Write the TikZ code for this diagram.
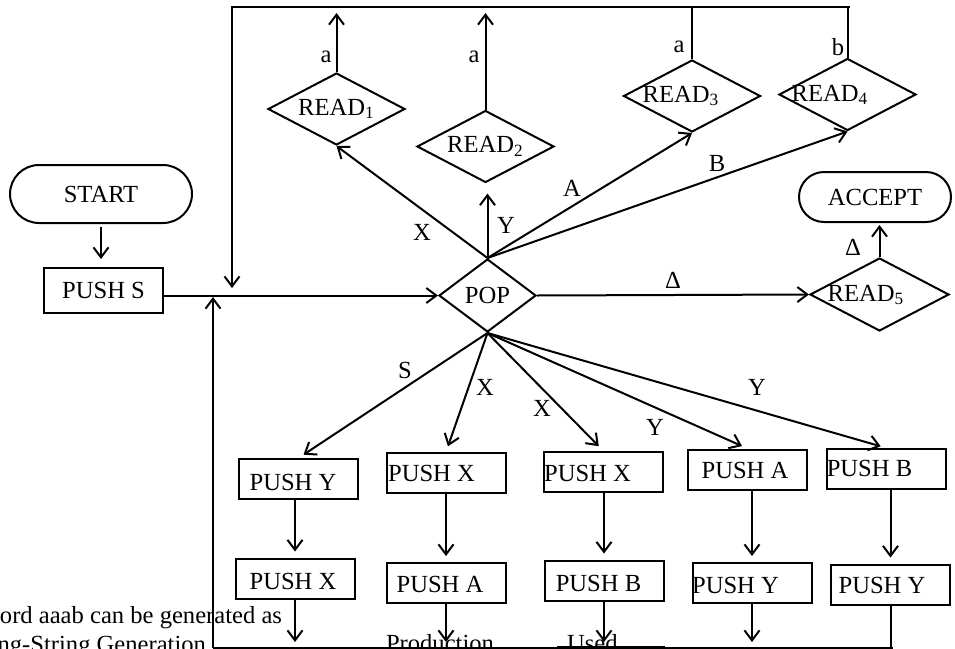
\documentclass[tikz,border=0pt]{standalone}
\usepackage{fontspec}
\setmainfont{Liberation Serif}
\usetikzlibrary{arrows.meta,shapes.geometric,calc}
\begin{document}
\begin{tikzpicture}[x=0.5pt,y=-0.5pt,line width=1pt,
  every node/.style={font=\fontsize{12.3}{14}\selectfont, inner sep=0pt},
  arr/.style={-{Straight Barb[length=5pt,width=7.5pt]}},
  dia/.style={draw, diamond, shape aspect=1.9, minimum width=68.5pt, minimum height=36pt},
  box/.style={draw, rectangle, minimum width=59.5pt, minimum height=20pt},
  term/.style={draw, rectangle}]
\useasboundingbox (0,0) rectangle (955,649);

% terminals and first box
\node[term, minimum width=91pt, minimum height=29pt, rounded corners=14.5pt] (start) at (101,194) {START};
\node[box, minimum height=22.5pt] (pushS) at (103.5,290.5) {PUSH S};
\node[term, minimum width=76pt, minimum height=25pt, rounded corners=12.5pt] (accept) at (875,197) {ACCEPT};

% diamonds
\node[dia, shape aspect=1.33, minimum width=48.5pt, minimum height=36.5pt] (pop) at (487.5,295.5) {POP};
\node[dia] (r1) at (336.5,109) {READ\textsubscript{1}};
\node[dia] (r2) at (485.5,146.5) {READ\textsubscript{2}};
\node[dia] (r3) at (692,96) {};
\node (r3t) at (681,96) {READ\textsubscript{3}};
\node[dia] (r4) at (847.5,94.5) {};
\node (r4t) at (830,95) {READ\textsubscript{4}};
\node[dia, minimum width=69.5pt, minimum height=36.5pt] (r5) at (879.5,294.5) {};
\node (r5t) at (866,295) {READ\textsubscript{5}};

% push boxes
\node[box] (b1) at (298.5,479) {};  \node (b1t) at (293,482) {PUSH Y};
\node[box] (b2) at (446,473) {};    \node (b2t) at (431.5,473.5) {PUSH X};
\node[box] (b3) at (603,471.5) {};  \node (b3t) at (587.5,473) {PUSH X};
\node[box] (b4) at (747.5,469.5) {};\node (b4t) at (745,470.5) {PUSH A};
\node[box] (b5) at (886.5,469) {};  \node (b5t) at (869.5,468.5) {PUSH B};
\node[box] (c1) at (295,578.5) {};  \node (c1t) at (293,581.5) {PUSH X};
\node[box] (c2) at (446,583) {};    \node (c2t) at (440,584.5) {PUSH A};
\node[box] (c3) at (604,580.5) {};  \node (c3t) at (598.5,583.5) {PUSH B};
\node[box] (c4) at (752,583) {};    \node (c4t) at (735.5,585) {PUSH Y};
\node[box] (c5) at (890.5,584.5) {};\node (c5t) at (882,585) {PUSH Y};

% coordinates
\coordinate (tl) at (232,7);
\coordinate (tr) at (850,7);
\coordinate (lp) at (232,296);
\coordinate (bl) at (213,648);
\coordinate (br) at (893,648);
\coordinate (jn) at (213,296);
\coordinate (u1) at (557,648);
\coordinate (u2) at (665,648);

% connectors
\draw[arr, shorten <=1.5pt, shorten >=4pt] (start.south) -- (start.south |- pushS.north);
\draw[arr] (pushS.east |- pop.west) -- (pop.west);
\draw[arr, shorten >=4pt] (tr) -- (tl) -- (lp);
\draw[arr, shorten >=3pt] (r1.north) -- (r1.north |- tl);
\draw[arr, shorten >=3pt] (r2.north) -- (r2.north |- tl);
\draw (r3.north) -- (r3.north |- tl);
\draw (r4.north) -- (r4.north |- tl);
\draw[arr] (pop.north) -- (r1.south);
\draw[arr, shorten >=5pt] (pop.north) -- (pop.north |- r2.south);
\draw[arr] (pop.north) -- (r3.south);
\draw[arr] (pop.north) -- (r4.south);
\draw[arr] (pop.east) -- (r5.west);
\draw[arr, shorten >=1pt] (r5.north) -- (r5.north |- accept.south);

\foreach \b in {b1,b2,b3,b4,b5}
  \draw[arr, shorten >=3pt] (pop.south) -- (\b.north);
\foreach \b/\c in {b1/c1,b2/c2,b3/c3,b4/c4,b5/c5}
  \draw[arr, shorten >=3pt] (\b.south -| \c.north) -- (\c.north);
\foreach \c in {c1,c2,c3,c4}
  \draw[arr, shorten >=3pt] (\c.south) -- (\c.south |- bl);
\draw (c5.south) -- (c5.south |- bl);
\draw (bl) -- (br);
\draw[arr, shorten >=0.5pt] (bl) -- (jn);
\draw[line width=1.8pt] (u1) -- (u2);

% labels
\node (la1) at (326,57) {a};
\node (la2) at (474,57) {a};
\node (la3) at (679,47) {a};
\node (lb4) at (838,47) {b};
\node (lX) at (422,232) {X};
\node (lY) at (506,225) {Y};
\node (lA) at (572,188) {A};
\node (lB) at (717,163) {B};
\node (lD1) at (673,280) {Δ};
\node (lD2) at (853,247) {Δ};
\node (lS) at (405,370) {S};
\node (lX2) at (485,387) {X};
\node (lX3) at (542,408) {X};
\node (lY2) at (655,427) {Y};
\node (lY3) at (757,387) {Y};

% cut-off text at the bottom
\node[anchor=base east] (n1) at (283,623) {ord aaab can be generated as};
\node[anchor=base east] (n2) at (207,652) {ng-String Generation};
\node[anchor=base west] (n3) at (385,651) {Production};
\node[anchor=base west] (n4) at (566,651) {Used};
\end{tikzpicture}
\end{document}
